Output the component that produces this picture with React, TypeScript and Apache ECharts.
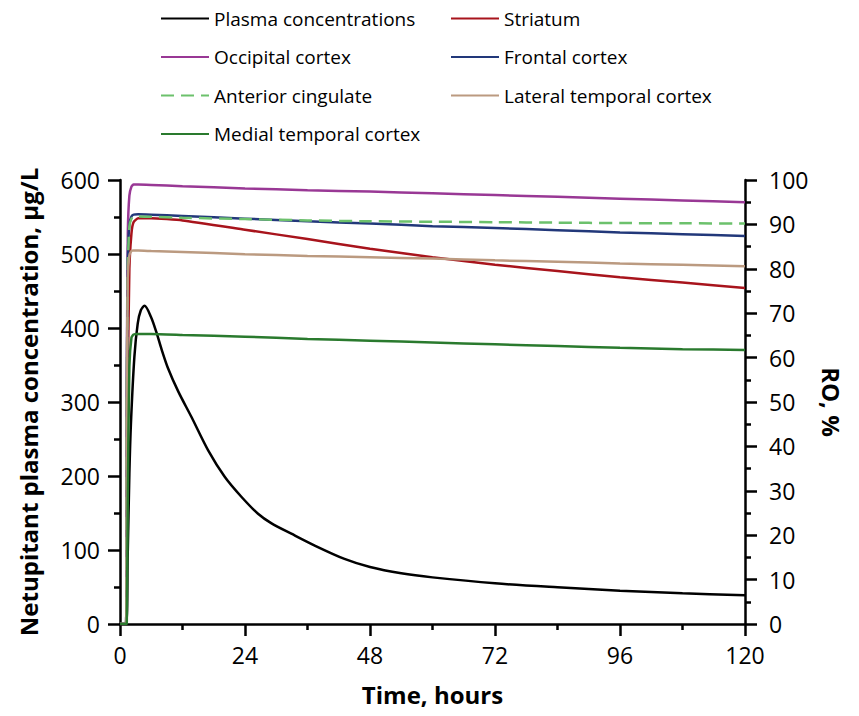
import React, { useEffect, useRef } from "react";
import * as echarts from "echarts";

// Plasma concentration (µg/L) vs time (hours)
const plasmaTimes = [0, 1.15, 1.47, 1.8, 2.1, 2.76, 3.4, 4.0, 4.7, 5.95, 7.0, 7.9, 9.2, 11.2, 13.7, 16.9, 20.1, 23.3, 26.5, 29.1, 32.9, 37.4, 43.1, 48, 54, 60, 72, 84, 96, 108, 120];
const plasmaValues = [0, 0, 90, 203, 271, 361, 406, 424, 430, 415, 394, 373, 346, 314, 280, 235, 199, 172, 149, 136, 122, 106, 88, 77, 68.5, 63, 55, 49.6, 45, 41.5, 38.8];

// Receptor occupancy (%) vs time (hours)
const roTimes = [0, 1.15, 1.3, 1.5, 1.8, 2.2, 2.6, 3.5, 6, 12, 24, 36, 48, 60, 72, 84, 96, 108, 120];
const striatum = [0, 0, 25, 55, 80, 88, 90.5, 91.4, 91.4, 90.9, 88.8, 86.7, 84.5, 82.6, 80.9, 79.5, 78.1, 76.9, 75.7];
const occipital = [0, 0, 55, 88, 96.5, 98.5, 99.0, 99.0, 98.9, 98.6, 98.1, 97.7, 97.4, 97.0, 96.6, 96.2, 95.8, 95.4, 95.0];
const frontal = [0, 0, 50, 82, 90, 91.8, 92.2, 92.3, 92.2, 91.9, 91.3, 90.7, 90.2, 89.6, 89.2, 88.7, 88.2, 87.8, 87.4];
const anteriorCingulate = [0, 0, 50, 81, 89.5, 91.3, 91.7, 91.8, 91.7, 91.5, 91.2, 90.9, 90.7, 90.6, 90.5, 90.4, 90.3, 90.25, 90.2];
const lateralTemporal = [0, 0, 50, 78, 83, 84, 84.1, 84.1, 84.0, 83.8, 83.3, 82.9, 82.6, 82.3, 81.9, 81.6, 81.2, 80.9, 80.6];
const medialTemporal = [0, 0, 0, 30, 58, 64.5, 65.2, 65.3, 65.3, 65.1, 64.7, 64.2, 63.8, 63.4, 63.0, 62.6, 62.2, 61.9, 61.7];

const xTicks = [0, 24, 48, 72, 96, 120];
const leftTicks = [0, 100, 200, 300, 400, 500, 600];
const rightTicks = [0, 10, 20, 30, 40, 50, 60, 70, 80, 90, 100];

const FONT = "'Open Sans', 'Noto Sans', sans-serif";

function pairs(ts: number[], vs: number[]) {
  return ts.map((t, i) => [t, vs[i]]);
}

export default function App() {
  const ref = useRef<HTMLDivElement>(null);
  useEffect(() => {
    document.body.style.margin = "0";
    const chart = echarts.init(ref.current!, null, { renderer: "svg" });
    const axisLine = { show: true, lineStyle: { color: "#000", width: 2.5 } };
    const axisTick = { show: true, inside: false, length: 12, lineStyle: { color: "#000", width: 2.5 } };
    const minorTick = { show: true, splitNumber: 2, length: 6, lineStyle: { color: "#000", width: 2.5 } };
    const labelStyle = { color: "#000", fontSize: 23, fontFamily: FONT };
    const nameStyle = { color: "#000", fontSize: 24, fontWeight: "bold" as const, fontFamily: FONT };

    const roSeries = (name: string, data: number[], color: string, type: any = "solid") => ({
      name,
      type: "line",
      yAxisIndex: 1,
      data: pairs(roTimes, data),
      showSymbol: false,
      symbol: "none",
      smooth: 0.15,
      lineStyle: { color, width: 2.5, type },
      itemStyle: { color },
    });

    const legendBase = {
      orient: "vertical",
      top: 9,
      padding: 0,
      itemWidth: 48,
      itemHeight: 14,
      itemGap: 19.5,
      itemStyle: { opacity: 0 },
      textStyle: { color: "#000", fontSize: 19, fontFamily: FONT, padding: [0, 0, 0, 0] },
    };

    chart.setOption({
      animation: false,
      backgroundColor: "#fff",
      grid: { left: 120, right: 114, top: 180, bottom: 92, containLabel: false },
      legend: [
        {
          ...legendBase,
          data: ["Plasma concentrations", "Occipital cortex", "Anterior cingulate", "Medial temporal cortex"],
          left: 160,
        },
        {
          ...legendBase,
          data: ["Striatum", "Frontal cortex", "Lateral temporal cortex"],
          left: 450,
        },
      ],
      xAxis: {
        type: "value",
        min: xTicks[0],
        max: xTicks[xTicks.length - 1],
        interval: 24,
        name: "Time, hours",
        nameLocation: "middle",
        nameGap: 58,
        nameTextStyle: nameStyle,
        axisLine,
        axisTick,
        minorTick,
        splitLine: { show: false },
        axisLabel: { ...labelStyle, margin: 19 },
      },
      yAxis: [
        {
          type: "value",
          min: leftTicks[0],
          max: leftTicks[leftTicks.length - 1],
          interval: 100,
          name: "Netupitant plasma concentration, µg/L",
          nameLocation: "middle",
          nameGap: 80,
          nameTextStyle: nameStyle,
          axisLine,
          axisTick,
          minorTick,
          splitLine: { show: false },
          axisLabel: { ...labelStyle, margin: 20 },
        },
        {
          type: "value",
          position: "right",
          min: rightTicks[0],
          max: rightTicks[rightTicks.length - 1],
          interval: 10,
          name: "RO, %",
          nameLocation: "middle",
          nameRotate: -90,
          nameGap: 68,
          nameTextStyle: nameStyle,
          axisLine,
          axisTick,
          minorTick,
          splitLine: { show: false },
          axisLabel: { ...labelStyle, margin: 24 },
        },
      ],
      series: [
        {
          name: "Plasma concentrations",
          type: "line",
          yAxisIndex: 0,
          data: pairs(plasmaTimes, plasmaValues),
          showSymbol: false,
          symbol: "none",
          smooth: 0.3,
          lineStyle: { color: "#000", width: 2.5 },
          itemStyle: { color: "#000" },
          z: 3,
        },
        roSeries("Striatum", striatum, "#a8141c"),
        roSeries("Occipital cortex", occipital, "#993895"),
        roSeries("Frontal cortex", frontal, "#22387a"),
        roSeries("Anterior cingulate", anteriorCingulate, "#6cc16c", [13, 7]),
        roSeries("Lateral temporal cortex", lateralTemporal, "#bb9a80"),
        roSeries("Medial temporal cortex", medialTemporal, "#2a7a2e"),
      ],
    });
    return () => chart.dispose();
  }, []);
  return <div ref={ref} style={{ width: 859, height: 716 }} />;
}
